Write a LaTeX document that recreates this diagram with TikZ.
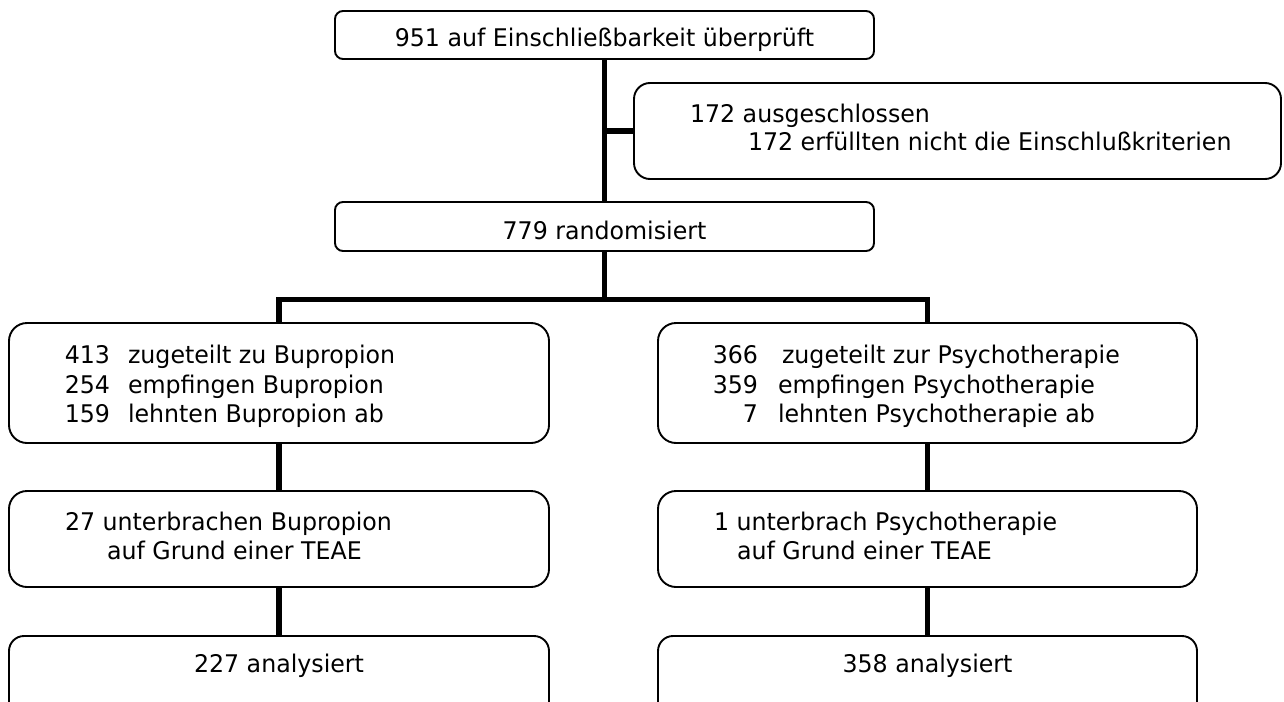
\documentclass[tikz,border=0pt]{standalone}
\usepackage{fontspec}
\setmainfont{DejaVu Sans}[FakeStretch=0.975]
\begin{document}
\begin{tikzpicture}[x=1pt,y=-1pt,
  box/.style={draw, line width=1.9pt, inner sep=0pt, outer sep=0pt},
  conn/.style={line width=5.3pt, line join=miter},
  txt/.style={inner sep=0pt, outer sep=0pt, font=\fontsize{24.3}{29}\selectfont},
  lt/.style={txt, anchor=base west},
  rt/.style={txt, anchor=base east},
  ct/.style={txt, anchor=base}]
\useasboundingbox (0,0) rectangle (1284,701);
\clip (0,0) rectangle (1284,701);
% boxes
\node[box, rounded corners=8pt, minimum width=539pt, minimum height=48pt] (B1) at (604.5,35) {};
\node[box, rounded corners=16pt, minimum width=647pt, minimum height=96pt] (B2) at (957.5,131) {};
\node[box, rounded corners=8pt, minimum width=539pt, minimum height=49pt] (B3) at (604.5,226.5) {};
\node[box, rounded corners=18pt, minimum width=540pt, minimum height=120pt] (L1) at (279,383) {};
\node[box, rounded corners=18pt, minimum width=539pt, minimum height=120pt] (R1) at (927.5,383) {};
\node[box, rounded corners=18pt, minimum width=540pt, minimum height=96pt] (L2) at (279,539) {};
\node[box, rounded corners=18pt, minimum width=539pt, minimum height=96pt] (R2) at (927.5,539) {};
\node[box, rounded corners=15pt, minimum width=540pt, minimum height=100pt] (L3) at (279,686) {};
\node[box, rounded corners=15pt, minimum width=539pt, minimum height=100pt] (R3) at (927.5,686) {};
% connectors
\coordinate (bar) at (604.5,299.5);
\draw[conn] (B1.south) -- (B3.north);
\draw[conn] (B1.south |- B2.west) -- (B2.west);
\draw[conn] (B3.south) -- (bar);
\draw[conn] (L1.north) -- (L1.north |- bar) -- (R1.north |- bar) -- (R1.north);
\draw[conn] (L1.south) -- (L2.north);
\draw[conn] (L2.south) -- (L3.north);
\draw[conn] (R1.south) -- (R2.north);
\draw[conn] (R2.south) -- (R3.north);
% texts
\node[ct] (t1) at (604.5,47) {951 auf Einschließbarkeit überprüft};
\node[lt] (t2a) at (690,122) {172 ausgeschlossen};
\node[lt] (t2b) at (748,150) {172 erfüllten nicht die Einschlußkriterien};
\node[ct] (t3) at (604.5,239) {779 randomisiert};
\node[rt] (l1n1) at (110,363) {413};
\node[lt] (l1t1) at (128,363) {zugeteilt zu Bupropion};
\node[rt] (l1n2) at (110,393) {254};
\node[lt] (l1t2) at (128,393) {empfingen Bupropion};
\node[rt] (l1n3) at (110,422) {159};
\node[lt] (l1t3) at (128,422) {lehnten Bupropion ab};
\node[rt] (r1n1) at (758,363) {366};
\node[lt] (r1t1) at (782,363) {zugeteilt zur Psychotherapie};
\node[rt] (r1n2) at (758,393) {359};
\node[lt] (r1t2) at (778,393) {empfingen Psychotherapie};
\node[rt] (r1n3) at (758,422) {7};
\node[lt] (r1t3) at (778,422) {lehnten Psychotherapie ab};
\node[lt] (l2a) at (65,530) {27 unterbrachen Bupropion};
\node[lt] (l2b) at (107,559) {auf Grund einer TEAE};
\node[lt] (r2a) at (714,530) {1 unterbrach Psychotherapie};
\node[lt] (r2b) at (737,559) {auf Grund einer TEAE};
\node[ct] (l3) at (279,672) {227 analysiert};
\node[ct] (r3) at (927.5,672) {358 analysiert};
\end{tikzpicture}
\end{document}
